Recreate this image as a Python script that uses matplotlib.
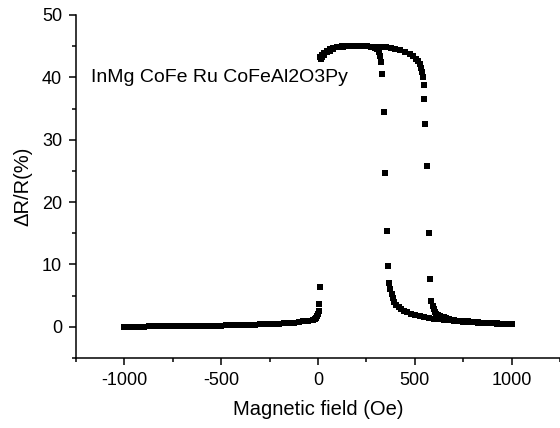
import matplotlib.pyplot as plt
from matplotlib.ticker import MultipleLocator

plt.rcParams['font.family'] = ['Liberation Sans', 'DejaVu Sans']
plt.rcParams['axes.unicode_minus'] = False

# negative-field part (shared by both sweeps)
low_field = [-1000, -975, -950, -925, -900, -875, -850, -825, -800, -775,
             -750, -725, -700, -675, -650, -625, -600, -575, -550, -525,
             -500, -475, -450, -425, -400, -375, -350, -325, -300, -275,
             -250, -225, -200, -175, -150, -125, -100, -75, -50, -25,
             -15, -8, -3, 0]
low_r = [0.00, 0.00, 0.02, 0.03, 0.04, 0.05, 0.06, 0.07, 0.08, 0.09,
         0.10, 0.11, 0.12, 0.13, 0.14, 0.15, 0.16, 0.17, 0.18, 0.19,
         0.20, 0.22, 0.24, 0.26, 0.28, 0.30, 0.32, 0.34, 0.37, 0.40,
         0.43, 0.46, 0.50, 0.54, 0.58, 0.63, 0.70, 0.85, 0.95, 1.10,
         1.25, 1.45, 1.70, 2.10]

# sweep up, 0 -> 1000 Oe
up_field = [12, 20, 30, 45, 60, 80, 100, 125, 150, 175, 200, 225, 250, 275,
            300, 325, 350, 375, 400, 425, 450, 475, 490, 505, 515, 525, 533,
            538, 542, 546, 550, 555, 561, 572, 579, 586, 592, 598, 605, 612,
            620, 630, 640, 650, 663, 675, 700, 725, 750, 775, 800, 825, 850,
            875, 900, 925, 950, 975, 1000]
up_r = [43.2, 43.6, 43.9, 44.2, 44.5, 44.7, 44.9, 45.0, 45.0, 45.0, 45.0,
        45.0, 45.0, 44.9, 44.9, 44.8, 44.8, 44.7, 44.6, 44.4, 44.1, 43.7,
        43.4, 43.0, 42.6, 42.1, 41.5, 40.8, 40.0, 38.8, 36.5, 32.5, 25.8,
        15.0, 7.6, 4.2, 3.3, 2.8, 2.4, 2.1, 1.9, 1.75, 1.6, 1.5, 1.35, 1.25,
        1.1, 1.0, 0.9, 0.85, 0.75, 0.7, 0.65, 0.6, 0.55, 0.5, 0.45, 0.42, 0.4]

# sweep down, 1000 -> 0 Oe
down_field = [1000, 975, 950, 925, 900, 875, 850, 825, 800, 775, 750, 725,
              700, 675, 650, 625, 600, 575, 550, 525, 500, 480, 460, 445, 430,
              418, 405, 395, 387, 380, 374, 368, 363, 354, 347, 340, 331, 325,
              320, 313, 305, 295, 280, 255, 230, 205, 180, 155, 130, 105, 80,
              60, 45, 30, 20, 14, 8, 6, 4, 2]
down_r = [0.45, 0.47, 0.5, 0.53, 0.56, 0.6, 0.64, 0.68, 0.72, 0.77, 0.82,
          0.88, 0.95, 1.02, 1.1, 1.2, 1.3, 1.4, 1.55, 1.7, 1.9, 2.05, 2.3, 2.5,
          2.8, 3.1, 3.5, 4.0, 4.6, 5.3, 6.1, 7.1, 9.8, 15.3, 24.6, 34.4, 40.5,
          42.4, 43.5, 44.1, 44.5, 44.7, 44.9, 45.0, 45.0, 45.0, 45.0, 45.0,
          44.9, 44.8, 44.6, 44.3, 44.0, 43.6, 43.2, 42.9, 6.4, 3.7, 2.6, 2.1]

fig = plt.figure(figsize=(5.6, 4.28), dpi=100)
ax = fig.add_axes([0.1357, 0.1636, 0.8643, 0.8014])

for f, r in [(low_field, low_r), (up_field, up_r), (down_field, down_r)]:
    ax.plot(f, r, 's', color='black', markersize=4.5, markeredgewidth=0)

ax.text(-1175, 40, 'InMg CoFe Ru CoFeAl2O3Py', fontsize=14, va='center')

ax.set_xlim(-1250, 1250)
ax.set_ylim(-5, 50)
ax.xaxis.set_major_locator(MultipleLocator(500))
ax.xaxis.set_minor_locator(MultipleLocator(250))
ax.yaxis.set_major_locator(MultipleLocator(10))
ax.yaxis.set_minor_locator(MultipleLocator(5))
ax.tick_params(which='major', direction='out', length=5, width=1.1,
               labelsize=13, pad=5)
ax.tick_params(which='minor', direction='out', length=3, width=1.1)

for s in ['top', 'right']:
    ax.spines[s].set_visible(False)
for s in ['left', 'bottom']:
    ax.spines[s].set_linewidth(1.1)

ax.set_xlabel('Magnetic field (Oe)', fontsize=14.5, labelpad=8)
ax.set_ylabel('ΔR/R(%)', fontsize=14.5, labelpad=7)

fig.savefig('out.png', dpi=100)
